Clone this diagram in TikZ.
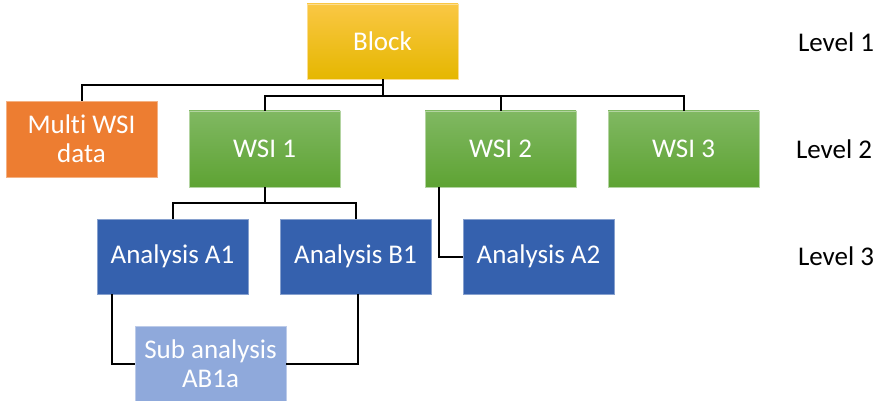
\documentclass[tikz,border=0pt]{standalone}
\usepackage{fontspec}
\setmainfont[Ligatures=NoCommon]{Carlito}
\definecolor{ylwT}{HTML}{FAC744}
\definecolor{ylwB}{HTML}{E5B700}
\definecolor{orng}{HTML}{ED7D31}
\definecolor{grnT}{HTML}{80B862}
\definecolor{grnB}{HTML}{5EA333}
\definecolor{blu}{HTML}{3561AE}
\definecolor{lblu}{HTML}{8FA9DB}
\tikzset{
  box/.style={rectangle, minimum width=151pt, minimum height=75pt, inner sep=0pt,
    text=white, align=center, font=\fontsize{27}{29}\selectfont, line width=0.8pt},
  yellowbox/.style={box, top color=ylwT, bottom color=ylwB, draw=ylwT!60!white},
  orangebox/.style={box, fill=orng, draw=orng!60!white},
  greenbox/.style={box, top color=grnT, bottom color=grnB, draw=grnT!60!white},
  bluebox/.style={box, fill=blu, draw=blu!60!white},
  lightbox/.style={box, fill=lblu, draw=lblu!60!white},
  levellabel/.style={font=\fontsize{27}{29}\selectfont, text=black, inner sep=0pt},
  conn/.style={draw=black, line width=2pt}
}
\begin{document}
\begin{tikzpicture}[x=1pt,y=-1pt]
\useasboundingbox (0,0) rectangle (880,401);
\node[yellowbox] (Block) at (382.5,41.5) {Block};
\node[orangebox, minimum height=76pt] (Multi) at (81.5,139) {Multi WSI\\data};
\node[greenbox, minimum height=76pt] (WSI1) at (264.5,149) {WSI 1};
\node[greenbox, minimum height=76pt] (WSI2) at (500.5,149) {WSI 2};
\node[greenbox, minimum height=76pt] (WSI3) at (683.5,149) {WSI 3};
\node[bluebox] (A1) at (172.5,256.5) {Analysis A1};
\node[bluebox] (B1) at (355.5,256.5) {Analysis B1};
\node[bluebox] (A2) at (538.5,256.5) {Analysis A2};
\node[lightbox] (Sub) at (210.5,363.5) {Sub analysis\\AB1a};
\node[levellabel] (L1) at (836,42) {Level 1};
\node[levellabel] (L2) at (834,149) {Level 2};
\node[levellabel] (L3) at (836,256) {Level 3};
\coordinate (busA) at (382.5,85.5);
\coordinate (busB) at (382.5,96);
\coordinate (busC) at (264.5,203);
\draw[conn] (Block.south) -- (busB);
\draw[conn] (Multi.north) |- (busA);
\draw[conn] (WSI1.north) |- (busB) -| (WSI3.north);
\draw[conn] (WSI2.north) -- (WSI2.north |- busB);
\draw[conn] (WSI1.south) -- (busC);
\draw[conn] (A1.north) |- (busC) -| (B1.north);
\draw[conn] ([xshift=14pt]WSI2.south west) |- (A2.west);
\draw[conn] ([xshift=15pt]A1.south west) |- (Sub.west);
\draw[conn] ([xshift=2.5pt]B1.south) |- (Sub.east);
\end{tikzpicture}
\end{document}
